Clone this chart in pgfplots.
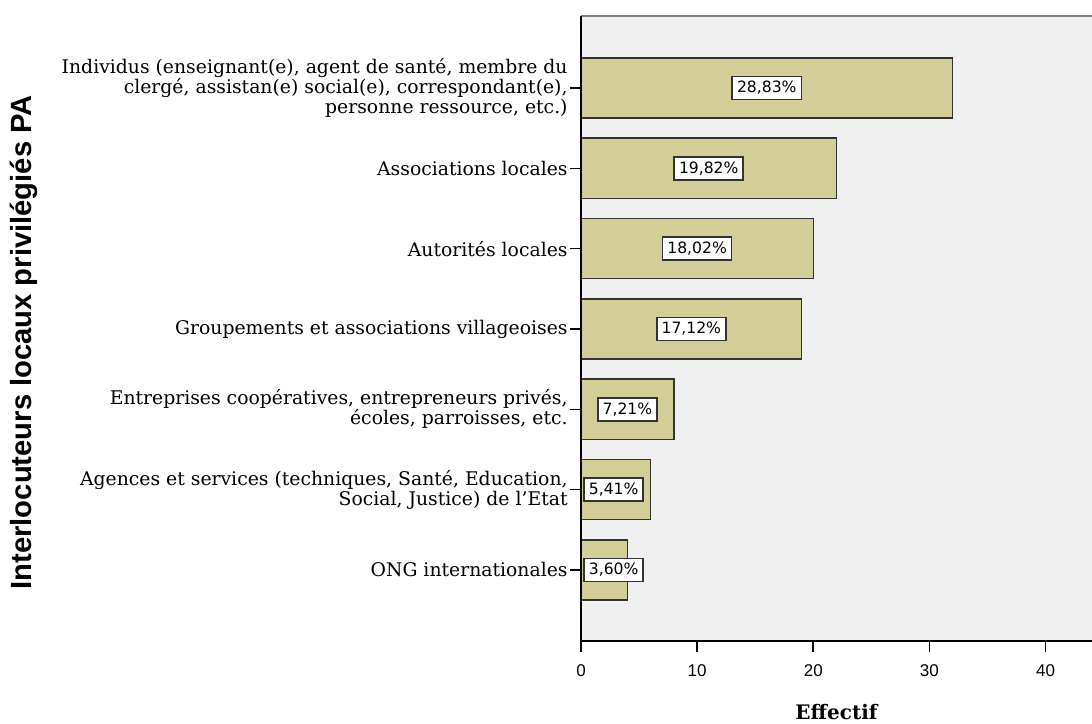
\documentclass[border=0pt]{standalone}
\usepackage{pgfplots}
\pgfplotsset{compat=1.18}
\usepackage{fontspec}
\setmainfont{DejaVu Serif}
\newfontfamily\sansf{Liberation Sans}
\newfontfamily\pctf{DejaVu Sans}
\definecolor{barc}{RGB}{211,206,152}
\definecolor{bgc}{RGB}{240,240,240}
\definecolor{topc}{RGB}{130,130,130}
\begin{document}
\begin{tikzpicture}
\begin{axis}[
  name=ax,
  scale only axis,
  width=255.5pt, height=312.5pt,
  xmin=0, xmax=44,
  ymin=-0.884, ymax=6.896,
  axis background/.style={fill=bgc},
  axis line style={draw=none},
  tick align=outside,
  xtick pos=bottom, ytick pos=left,
  xtick={0,10,20,30,40},
  ytick={0,1,2,3,4,5,6},
  yticklabels={
    {ONG internationales},
    {Agences et services (techniques, Santé, Education,\\Social, Justice) de l’Etat},
    {Entreprises coopératives, entrepreneurs privés,\\écoles, parroisses, etc.},
    {Groupements et associations villageoises},
    {Autorités locales},
    {Associations locales},
    {Individus (enseignant(e), agent de santé, membre du\\clergé, assistan(e) social(e), correspondant(e),\\personne ressource, etc.)}
  },
  yticklabel style={align=right, font=\fontsize{9.4}{10}\selectfont, inner sep=1pt},
  xticklabel style={font=\sansf\fontsize{8.5}{10}\selectfont, yshift=-3pt},
  x tick label style={/pgf/number format/assume math mode=true},
  major tick length=5.5pt,
  tick style={black, line width=0.8pt},
  xlabel={Effectif},
  xlabel style={font=\bfseries\fontsize{10}{11}\selectfont, at={(axis description cs:0.5,-0.114)}, anchor=center},
  ylabel={Interlocuteurs locaux privilégiés PA},
  ylabel style={font=\sansf\bfseries\fontsize{14.6}{16}\selectfont, at={(axis description cs:-1.09,0.478)}, anchor=center},
  clip=false,
]
\addplot[xbar, bar width=0.75, fill=barc, draw=black!80, line width=0.7pt]
  coordinates {(4,0) (6,1) (8,2) (19,3) (20,4) (22,5) (32,6)};
\addplot[draw=none, nodes near coords, point meta=explicit symbolic,
  nodes near coords style={anchor=center, draw=black!80, fill=white, line width=0.8pt,
    inner sep=2.4pt, font=\pctf\fontsize{7.8}{9}\selectfont}]
  coordinates {(16,6) [28,83\%] (11,5) [19,82\%] (10,4) [18,02\%] (9.5,3) [17,12\%] (4,2) [7,21\%]};
\addplot[draw=none, nodes near coords, point meta=explicit symbolic,
  nodes near coords style={anchor=west, draw=black!80, fill=white, line width=0.8pt,
    inner sep=2.4pt, font=\pctf\fontsize{7.8}{9}\selectfont}]
  coordinates {(0.2,1) [5,41\%] (0.2,0) [3,60\%]};
\draw[topc, line width=0.8pt] (rel axis cs:0,1) -- (rel axis cs:1,1);
\draw[black, line width=0.8pt] (rel axis cs:0,0) -- (rel axis cs:1,0);
\draw[black, line width=0.8pt] (rel axis cs:0,0) -- (rel axis cs:0,1);
\end{axis}
\pgfresetboundingbox
\path ([shift={(-290.5pt,-41pt)}]ax.south west) rectangle ([shift={(0pt,8pt)}]ax.north east);
\end{tikzpicture}
\end{document}
